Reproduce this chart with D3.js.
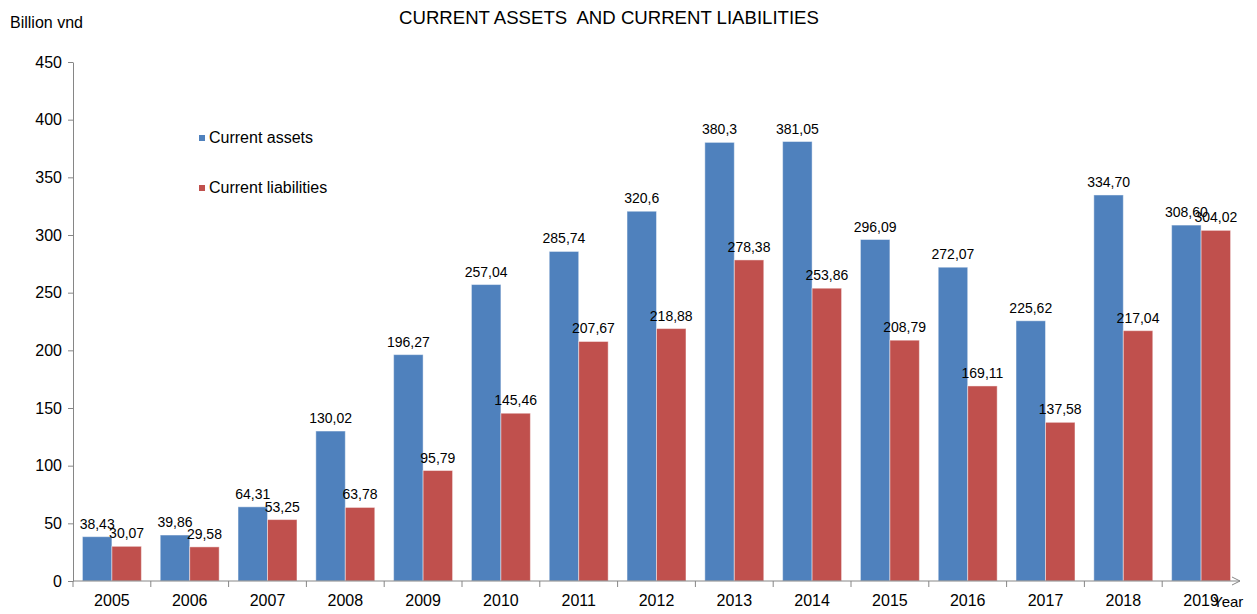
<!DOCTYPE html>
<html>

<head>
    <meta charset="UTF-8">
    <title>Current assets and current liabilities</title>
    <script src="https://cdn.jsdelivr.net/npm/d3@7"></script>
    <style>
        body { margin: 0; background: #fff; }
        text { font-family: "Liberation Sans", Arial, sans-serif; fill: #000; }
    </style>
</head>

<body>
    <script>
        const years = ['2005', '2006', '2007', '2008', '2009', '2010', '2011', '2012', '2013', '2014', '2015', '2016', '2017', '2018', '2019'];
        const assets = [38.43, 39.86, 64.31, 130.02, 196.27, 257.04, 285.74, 320.6, 380.3, 381.05, 296.09, 272.07, 225.62, 334.70, 308.60];
        const liabilities = [30.07, 29.58, 53.25, 63.78, 95.79, 145.46, 207.67, 218.88, 278.38, 253.86, 208.79, 169.11, 137.58, 217.04, 304.02];
        const assetLabels = ['38,43', '39,86', '64,31', '130,02', '196,27', '257,04', '285,74', '320,6', '380,3', '381,05', '296,09', '272,07', '225,62', '334,70', '308,60'];
        const liabLabels = ['30,07', '29,58', '53,25', '63,78', '95,79', '145,46', '207,67', '218,88', '278,38', '253,86', '208,79', '169,11', '137,58', '217,04', '304,02'];
        const yTicks = [0, 50, 100, 150, 200, 250, 300, 350, 400, 450];
        const seriesNames = ['Current assets', 'Current liabilities'];
        const colors = ['#4f81bd', '#c0504d'];

        const width = 1257;
        const height = 614;
        const x0 = 73, x1 = 1240, yTop = 62, yBase = 581;

        const svg = d3.select('body')
            .append('svg')
            .attr('width', width)
            .attr('height', height);

        const x = d3.scaleBand().domain(years).range([x0, x1]).padding(0);
        const xs = d3.scaleBand().domain([0, 1]).range([0, x.bandwidth()]).paddingOuter(0.32).paddingInner(0);
        const y = d3.scaleLinear().domain([0, 450]).range([yBase, yTop]);

        // title + unit
        svg.append('text')
            .attr('x', 609).attr('y', 24)
            .attr('text-anchor', 'middle')
            .attr('font-size', 18.6)
            .style('white-space', 'pre')
            .text('CURRENT ASSETS  AND CURRENT LIABILITIES');

        svg.append('text')
            .attr('x', 10).attr('y', 28)
            .attr('font-size', 16)
            .text('Billion vnd');

        // bars
        const rows = years.map((yr, i) => ({
            year: yr,
            vals: [
                { k: 0, v: assets[i], lab: assetLabels[i] },
                { k: 1, v: liabilities[i], lab: liabLabels[i] }
            ]
        }));

        const g = svg.append('g')
            .selectAll('g')
            .data(rows)
            .join('g')
            .attr('transform', d => `translate(${x(d.year)},0)`);

        g.selectAll('rect')
            .data(d => d.vals)
            .join('rect')
            .attr('x', d => xs(d.k))
            .attr('y', d => y(d.v))
            .attr('width', xs.bandwidth())
            .attr('height', d => yBase - y(d.v))
            .attr('fill', d => colors[d.k])
            .attr('stroke', 'rgba(255,255,255,0.45)')
            .attr('stroke-width', 1);

        g.selectAll('text')
            .data(d => d.vals)
            .join('text')
            .attr('x', d => xs(d.k) + xs.bandwidth() / 2)
            .attr('y', d => y(d.v) - 8)
            .attr('text-anchor', 'middle')
            .attr('font-size', 14)
            .text(d => d.lab);

        // y axis
        const yAxis = svg.append('g')
            .attr('transform', `translate(${x0},0)`)
            .call(d3.axisLeft(y).tickValues(yTicks).tickSize(5).tickSizeOuter(0).tickPadding(6));
        yAxis.select('.domain').attr('stroke', '#868686');
        yAxis.selectAll('.tick line').attr('stroke', '#868686');
        yAxis.selectAll('.tick text').attr('font-size', 16).attr('font-family', '"Liberation Sans", Arial, sans-serif');

        // x axis
        const xAxis = svg.append('g')
            .attr('transform', `translate(0,${yBase})`)
            .call(d3.axisBottom(x).tickSize(0).tickPadding(14));
        xAxis.select('.domain').remove();
        xAxis.selectAll('.tick text').attr('font-size', 16).attr('font-family', '"Liberation Sans", Arial, sans-serif');

        svg.append('line')
            .attr('x1', x0).attr('x2', x1)
            .attr('y1', yBase).attr('y2', yBase)
            .attr('stroke', '#868686');

        svg.append('g')
            .selectAll('line')
            .data(years)
            .join('line')
            .attr('x1', d => x(d)).attr('x2', d => x(d))
            .attr('y1', yBase).attr('y2', yBase + 6)
            .attr('stroke', '#868686');

        svg.append('path')
            .attr('d', `M${x1 - 8},${yBase - 4}L${x1},${yBase}L${x1 - 8},${yBase + 4}`)
            .attr('fill', 'none')
            .attr('stroke', '#868686');

        svg.append('text')
            .attr('x', 1213).attr('y', 607)
            .attr('font-size', 15)
            .text('Year');

        // legend
        const leg = svg.append('g')
            .selectAll('g')
            .data(seriesNames)
            .join('g')
            .attr('transform', (d, i) => `translate(199,${135 + i * 50})`);

        leg.append('rect')
            .attr('width', 6).attr('height', 6)
            .attr('fill', (d, i) => colors[i]);

        leg.append('text')
            .attr('x', 10).attr('y', 8)
            .attr('font-size', 16)
            .text(d => d);
    </script>
</body>

</html>
